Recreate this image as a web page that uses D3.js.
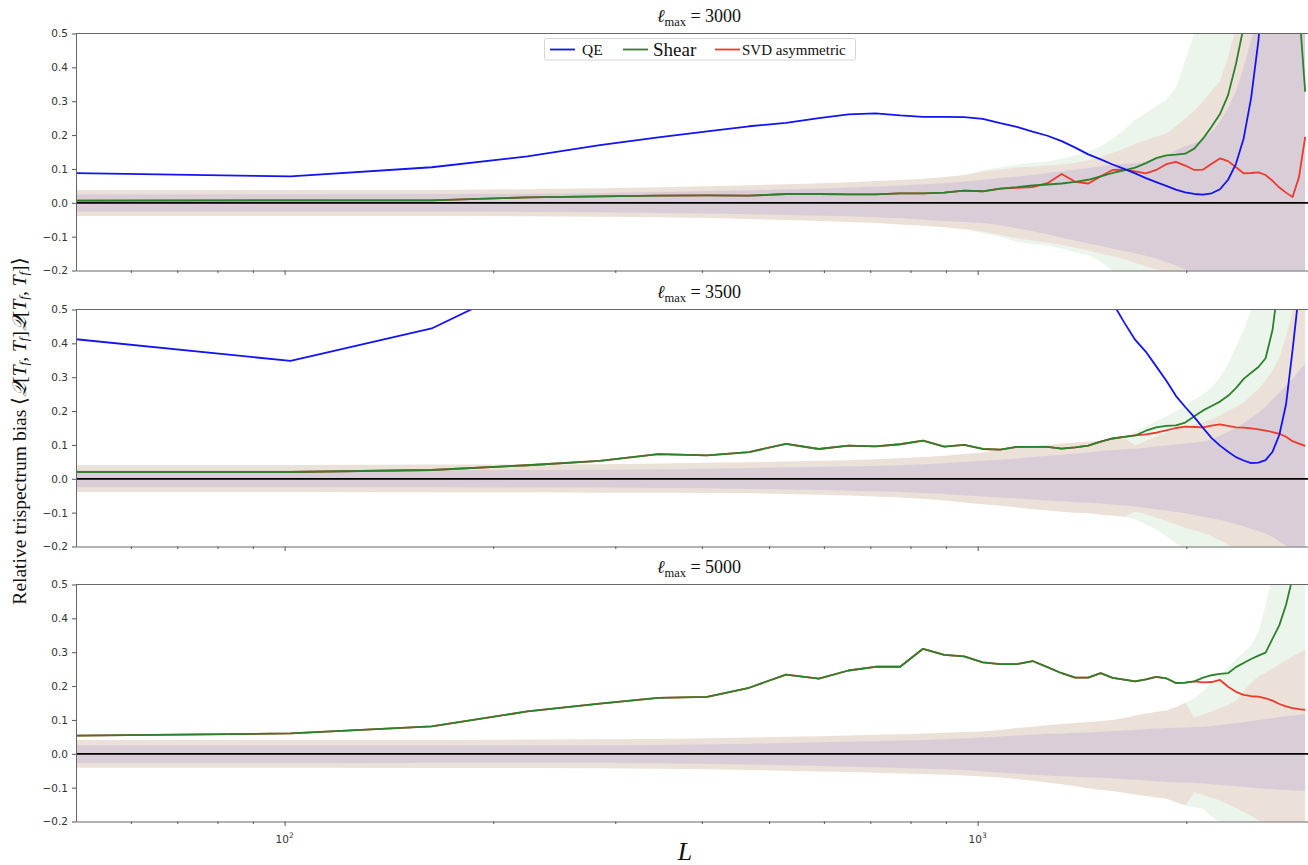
<!DOCTYPE html>
<html>
<head>
<meta charset="utf-8">
<title>Relative trispectrum bias</title>
<script src="https://cdn.jsdelivr.net/npm/d3@7"></script>
<style>
  body { margin: 0; background: #fff; }
  .tick text { font-family: "DejaVu Sans", sans-serif; font-size: 10.5px; fill: #333; }
  .tick line { stroke: #555; }
  .domain { stroke: #666; }
</style>
</head>
<body>
<div id="chart"></div>
<script>
// Multipole bin centres L
const L = [41, 102, 163, 224, 285, 346, 407, 468, 529, 590, 651, 712, 773, 834, 895, 956, 1017, 1078, 1139, 1200,
  1261, 1322, 1383, 1444, 1505, 1566, 1627, 1688, 1749, 1810, 1871, 1932, 1993, 2054, 2115, 2176, 2237, 2298, 2359,
  2420, 2481, 2542, 2603, 2664, 2725, 2786, 2847, 2908, 2969];

const yTicks = [0.5, 0.4, 0.3, 0.2, 0.1, 0.0, -0.1, -0.2];
const xMajor = [100, 1000];
const xMinor = [60, 70, 80, 90, 200, 300, 400, 500, 600, 700, 800, 900, 2000, 3000];
const lmaxLabels = ['3000', '3500', '5000'];
const seriesNames = ['QE', 'Shear', 'SVD asymmetric'];

// lmax = 3000 (values above 0.5 / below -0.2 run off the axes and are clipped)
const qe3000 = [0.090, 0.078, 0.105, 0.137, 0.170, 0.193, 0.211, 0.226, 0.236, 0.250, 0.261, 0.264, 0.258, 0.254, 0.254, 0.253, 0.248, 0.235, 0.224, 0.210, 0.198, 0.182, 0.163, 0.143, 0.128, 0.113, 0.100, 0.087, 0.073, 0.061, 0.050, 0.039, 0.031, 0.026, 0.024, 0.028, 0.040, 0.068, 0.115, 0.19, 0.31, 0.48, 0.75, 1.1, 1.5, 2.0, 2.6, 3.2, 4.0];
const shear3000 = [0.006, 0.007, 0.007, 0.016, 0.019, 0.021, 0.022, 0.021, 0.026, 0.026, 0.025, 0.025, 0.028, 0.028, 0.030, 0.036, 0.034, 0.042, 0.046, 0.051, 0.054, 0.057, 0.062, 0.068, 0.078, 0.088, 0.096, 0.104, 0.117, 0.132, 0.140, 0.142, 0.145, 0.160, 0.190, 0.225, 0.262, 0.318, 0.41, 0.52, 0.70, 0.90, 1.1, 1.3, 1.4, 1.3, 1.0, 0.58, 0.328];
const svd3000 = [0.006, 0.007, 0.007, 0.016, 0.019, 0.021, 0.022, 0.021, 0.026, 0.026, 0.025, 0.025, 0.028, 0.028, 0.030, 0.036, 0.034, 0.042, 0.044, 0.046, 0.058, 0.085, 0.062, 0.057, 0.078, 0.097, 0.098, 0.093, 0.087, 0.097, 0.114, 0.121, 0.110, 0.097, 0.098, 0.115, 0.131, 0.123, 0.105, 0.087, 0.088, 0.090, 0.082, 0.065, 0.045, 0.030, 0.017, 0.075, 0.195];
const qeHi3000 = [0.025, 0.025, 0.026, 0.027, 0.029, 0.032, 0.035, 0.037, 0.040, 0.042, 0.045, 0.048, 0.051, 0.055, 0.058, 0.063, 0.068, 0.073, 0.078, 0.083, 0.088, 0.093, 0.098, 0.103, 0.108, 0.112, 0.115, 0.117, 0.122, 0.130, 0.140, 0.155, 0.168, 0.176, 0.19, 0.21, 0.24, 0.28, 0.33, 0.40, 0.48, 0.56, 0.7, 0.85, 1.0, 1.1, 1.2, 1.3, 1.4];
const qeLo3000 = [-0.026, -0.026, -0.026, -0.027, -0.028, -0.030, -0.032, -0.034, -0.036, -0.038, -0.040, -0.043, -0.046, -0.050, -0.054, -0.057, -0.060, -0.066, -0.075, -0.084, -0.093, -0.103, -0.112, -0.120, -0.128, -0.136, -0.143, -0.149, -0.157, -0.165, -0.175, -0.186, -0.197, -0.206, -0.22, -0.24, -0.26, -0.28, -0.30, -0.33, -0.36, -0.4, -0.45, -0.5, -0.55, -0.6, -0.65, -0.7, -0.75];
const shearHi3000 = [0.038, 0.038, 0.038, 0.040, 0.043, 0.046, 0.049, 0.052, 0.055, 0.058, 0.061, 0.064, 0.067, 0.071, 0.076, 0.082, 0.096, 0.105, 0.112, 0.118, 0.122, 0.130, 0.140, 0.152, 0.166, 0.19, 0.215, 0.245, 0.265, 0.285, 0.304, 0.34, 0.42, 0.5, 0.6, 0.7, 0.8, 0.9, 1.0, 1.1, 1.2, 1.3, 1.4, 1.5, 1.6, 1.7, 1.8, 1.9, 2.0];
const shearLo3000 = [-0.039, -0.039, -0.039, -0.040, -0.041, -0.043, -0.045, -0.048, -0.051, -0.054, -0.057, -0.060, -0.064, -0.068, -0.072, -0.078, -0.09, -0.1, -0.115, -0.122, -0.126, -0.135, -0.147, -0.154, -0.175, -0.2, -0.23, -0.26, -0.29, -0.32, -0.35, -0.4, -0.45, -0.5, -0.55, -0.6, -0.65, -0.7, -0.75, -0.8, -0.85, -0.9, -0.95, -1.0, -1.05, -1.1, -1.15, -1.2, -1.25];
const svdHi3000 = [0.038, 0.038, 0.038, 0.040, 0.043, 0.046, 0.049, 0.052, 0.055, 0.058, 0.061, 0.064, 0.067, 0.071, 0.076, 0.082, 0.092, 0.098, 0.104, 0.107, 0.110, 0.113, 0.118, 0.125, 0.136, 0.148, 0.160, 0.174, 0.185, 0.196, 0.205, 0.225, 0.25, 0.272, 0.30, 0.33, 0.36, 0.43, 0.52, 0.6, 0.7, 0.8, 0.9, 1.0, 1.1, 1.2, 1.3, 1.4, 1.5];
const svdLo3000 = [-0.039, -0.039, -0.039, -0.040, -0.041, -0.043, -0.045, -0.048, -0.051, -0.054, -0.057, -0.060, -0.064, -0.068, -0.072, -0.078, -0.085, -0.095, -0.105, -0.112, -0.118, -0.125, -0.133, -0.142, -0.150, -0.158, -0.166, -0.178, -0.188, -0.196, -0.203, -0.215, -0.23, -0.25, -0.27, -0.3, -0.33, -0.36, -0.4, -0.45, -0.5, -0.55, -0.6, -0.65, -0.7, -0.75, -0.8, -0.85, -0.9];

// lmax = 3500
const qe3500 = [0.43, 0.348, 0.444, 0.58, 0.80, 0.92, 1.0, 1.05, 1.1, 1.12, 1.12, 1.1, 1.06, 1.0, 0.95, 0.9, 0.85, 0.8, 0.75, 0.7, 0.66, 0.62, 0.59, 0.56, 0.54, 0.52, 0.462, 0.41, 0.375, 0.332, 0.29, 0.245, 0.212, 0.182, 0.150, 0.120, 0.098, 0.080, 0.064, 0.054, 0.046, 0.048, 0.055, 0.080, 0.13, 0.22, 0.38, 0.55, 0.8];
const shear3500 = [0.020, 0.020, 0.026, 0.040, 0.053, 0.073, 0.069, 0.079, 0.103, 0.088, 0.098, 0.096, 0.102, 0.113, 0.095, 0.100, 0.088, 0.086, 0.094, 0.094, 0.094, 0.089, 0.093, 0.098, 0.110, 0.119, 0.124, 0.128, 0.142, 0.152, 0.156, 0.158, 0.166, 0.185, 0.202, 0.215, 0.228, 0.245, 0.268, 0.295, 0.313, 0.330, 0.356, 0.44, 0.6, 0.8, 1.0, 1.2, 1.4];
const svd3500 = [0.020, 0.020, 0.026, 0.040, 0.053, 0.073, 0.069, 0.079, 0.103, 0.088, 0.098, 0.096, 0.102, 0.113, 0.095, 0.100, 0.088, 0.086, 0.094, 0.094, 0.094, 0.089, 0.093, 0.098, 0.110, 0.119, 0.124, 0.128, 0.131, 0.136, 0.143, 0.150, 0.154, 0.153, 0.152, 0.157, 0.161, 0.156, 0.152, 0.151, 0.149, 0.146, 0.142, 0.138, 0.133, 0.124, 0.111, 0.104, 0.097];
const qeHi3500 = [0.025, 0.025, 0.025, 0.026, 0.027, 0.028, 0.030, 0.032, 0.034, 0.035, 0.037, 0.038, 0.040, 0.043, 0.046, 0.050, 0.053, 0.056, 0.060, 0.064, 0.068, 0.071, 0.075, 0.078, 0.082, 0.085, 0.087, 0.089, 0.092, 0.095, 0.098, 0.101, 0.104, 0.107, 0.110, 0.117, 0.128, 0.138, 0.150, 0.165, 0.18, 0.195, 0.213, 0.235, 0.255, 0.275, 0.295, 0.32, 0.34];
const qeLo3500 = [-0.025, -0.025, -0.025, -0.026, -0.026, -0.027, -0.028, -0.030, -0.032, -0.033, -0.035, -0.037, -0.039, -0.042, -0.045, -0.049, -0.052, -0.055, -0.058, -0.061, -0.064, -0.066, -0.069, -0.071, -0.073, -0.076, -0.079, -0.082, -0.086, -0.090, -0.094, -0.098, -0.102, -0.107, -0.112, -0.117, -0.122, -0.128, -0.134, -0.140, -0.148, -0.155, -0.162, -0.172, -0.185, -0.198, -0.21, -0.225, -0.24];
const shearHi3500 = [0.041, 0.041, 0.042, 0.042, 0.043, 0.045, 0.047, 0.049, 0.051, 0.053, 0.055, 0.058, 0.061, 0.064, 0.068, 0.073, 0.078, 0.085, 0.092, 0.097, 0.100, 0.104, 0.107, 0.110, 0.112, 0.118, 0.120, 0.14, 0.155, 0.17, 0.185, 0.2, 0.215, 0.235, 0.25, 0.27, 0.30, 0.34, 0.39, 0.44, 0.5, 0.6, 0.7, 0.8, 0.9, 1.0, 1.1, 1.2, 1.3];
const shearLo3500 = [-0.039, -0.039, -0.040, -0.040, -0.041, -0.041, -0.042, -0.043, -0.045, -0.047, -0.049, -0.052, -0.055, -0.060, -0.064, -0.070, -0.075, -0.080, -0.085, -0.090, -0.094, -0.097, -0.100, -0.102, -0.106, -0.109, -0.112, -0.12, -0.135, -0.15, -0.17, -0.19, -0.21, -0.23, -0.25, -0.28, -0.31, -0.34, -0.37, -0.4, -0.45, -0.5, -0.55, -0.6, -0.65, -0.7, -0.75, -0.8, -0.85];
const svdHi3500 = [0.041, 0.041, 0.042, 0.042, 0.043, 0.045, 0.047, 0.049, 0.051, 0.053, 0.055, 0.058, 0.061, 0.064, 0.068, 0.073, 0.078, 0.085, 0.092, 0.097, 0.100, 0.104, 0.107, 0.110, 0.112, 0.118, 0.120, 0.098, 0.112, 0.125, 0.136, 0.145, 0.153, 0.160, 0.168, 0.176, 0.188, 0.200, 0.212, 0.226, 0.245, 0.265, 0.29, 0.32, 0.36, 0.42, 0.5, 0.6, 0.7];
const svdLo3500 = [-0.039, -0.039, -0.040, -0.040, -0.041, -0.041, -0.042, -0.043, -0.045, -0.047, -0.049, -0.052, -0.055, -0.060, -0.064, -0.070, -0.075, -0.080, -0.085, -0.090, -0.094, -0.097, -0.100, -0.102, -0.106, -0.109, -0.112, -0.097, -0.105, -0.115, -0.125, -0.135, -0.145, -0.152, -0.160, -0.170, -0.182, -0.195, -0.21, -0.23, -0.25, -0.28, -0.31, -0.34, -0.38, -0.42, -0.46, -0.5, -0.55];

// lmax = 5000 (the QE curve lies above the plotted range here)
const qe5000 = null;
const shear5000 = [0.052, 0.060, 0.081, 0.125, 0.148, 0.165, 0.168, 0.195, 0.234, 0.222, 0.246, 0.257, 0.257, 0.310, 0.292, 0.288, 0.270, 0.265, 0.265, 0.274, 0.256, 0.238, 0.225, 0.225, 0.238, 0.224, 0.219, 0.214, 0.220, 0.227, 0.223, 0.209, 0.210, 0.214, 0.225, 0.232, 0.236, 0.238, 0.256, 0.268, 0.280, 0.290, 0.299, 0.34, 0.38, 0.44, 0.52, 0.65, 0.8];
const svd5000 = [0.052, 0.060, 0.081, 0.125, 0.148, 0.165, 0.168, 0.195, 0.234, 0.222, 0.246, 0.257, 0.257, 0.310, 0.292, 0.288, 0.270, 0.265, 0.265, 0.274, 0.256, 0.238, 0.225, 0.225, 0.238, 0.224, 0.219, 0.214, 0.220, 0.227, 0.223, 0.209, 0.210, 0.214, 0.211, 0.212, 0.218, 0.198, 0.183, 0.174, 0.170, 0.169, 0.164, 0.157, 0.147, 0.140, 0.135, 0.132, 0.130];
const qeHi5000 = [0.025, 0.025, 0.025, 0.025, 0.025, 0.026, 0.028, 0.030, 0.032, 0.034, 0.036, 0.038, 0.039, 0.041, 0.043, 0.045, 0.048, 0.051, 0.054, 0.056, 0.059, 0.060, 0.062, 0.063, 0.065, 0.067, 0.069, 0.071, 0.073, 0.075, 0.076, 0.077, 0.078, 0.079, 0.080, 0.082, 0.085, 0.088, 0.091, 0.094, 0.097, 0.100, 0.103, 0.106, 0.109, 0.111, 0.113, 0.115, 0.117];
const qeLo5000 = [-0.027, -0.027, -0.027, -0.027, -0.027, -0.028, -0.030, -0.032, -0.034, -0.036, -0.038, -0.040, -0.042, -0.044, -0.046, -0.048, -0.052, -0.056, -0.059, -0.062, -0.064, -0.066, -0.068, -0.070, -0.071, -0.073, -0.075, -0.077, -0.079, -0.081, -0.083, -0.084, -0.085, -0.086, -0.088, -0.090, -0.092, -0.094, -0.096, -0.098, -0.100, -0.102, -0.104, -0.105, -0.106, -0.107, -0.108, -0.109, -0.110];
const shearHi5000 = [0.041, 0.041, 0.041, 0.042, 0.043, 0.044, 0.046, 0.048, 0.050, 0.052, 0.054, 0.056, 0.058, 0.060, 0.062, 0.064, 0.066, 0.070, 0.076, 0.080, 0.084, 0.088, 0.091, 0.094, 0.097, 0.100, 0.106, 0.113, 0.119, 0.124, 0.128, 0.138, 0.151, 0.165, 0.185, 0.21, 0.235, 0.255, 0.28, 0.30, 0.32, 0.36, 0.44, 0.53, 0.65, 0.8, 0.95, 1.1, 1.25];
const shearLo5000 = [-0.041, -0.041, -0.042, -0.042, -0.043, -0.044, -0.046, -0.048, -0.050, -0.052, -0.054, -0.056, -0.058, -0.060, -0.062, -0.064, -0.067, -0.070, -0.075, -0.080, -0.085, -0.090, -0.096, -0.102, -0.107, -0.110, -0.115, -0.120, -0.125, -0.129, -0.133, -0.143, -0.153, -0.158, -0.163, -0.185, -0.205, -0.225, -0.25, -0.28, -0.32, -0.36, -0.42, -0.5, -0.6, -0.7, -0.8, -0.9, -1.0];
const svdHi5000 = [0.041, 0.041, 0.041, 0.042, 0.043, 0.044, 0.046, 0.048, 0.050, 0.052, 0.054, 0.056, 0.058, 0.060, 0.062, 0.064, 0.066, 0.070, 0.076, 0.080, 0.084, 0.088, 0.091, 0.094, 0.097, 0.100, 0.106, 0.113, 0.119, 0.124, 0.128, 0.138, 0.151, 0.107, 0.117, 0.126, 0.135, 0.144, 0.158, 0.185, 0.21, 0.228, 0.240, 0.252, 0.265, 0.276, 0.287, 0.298, 0.308];
const svdLo5000 = [-0.041, -0.041, -0.042, -0.042, -0.043, -0.044, -0.046, -0.048, -0.050, -0.052, -0.054, -0.056, -0.058, -0.060, -0.062, -0.064, -0.067, -0.070, -0.075, -0.080, -0.085, -0.090, -0.096, -0.102, -0.107, -0.110, -0.115, -0.120, -0.125, -0.129, -0.133, -0.143, -0.153, -0.114, -0.122, -0.130, -0.138, -0.150, -0.160, -0.172, -0.184, -0.196, -0.21, -0.22, -0.23, -0.24, -0.25, -0.26, -0.27];

const panels = [
  { lmax: lmaxLabels[0], qe: qe3000, shear: shear3000, svd: svd3000,
    bands: { qe: [qeHi3000, qeLo3000], shear: [shearHi3000, shearLo3000], svd: [svdHi3000, svdLo3000] } },
  { lmax: lmaxLabels[1], qe: qe3500, shear: shear3500, svd: svd3500,
    bands: { qe: [qeHi3500, qeLo3500], shear: [shearHi3500, shearLo3500], svd: [svdHi3500, svdLo3500] } },
  { lmax: lmaxLabels[2], qe: qe5000, shear: shear5000, svd: svd5000,
    bands: { qe: [qeHi5000, qeLo5000], shear: [shearHi5000, shearLo5000], svd: [svdHi5000, svdLo5000] } }
];

const width = 1308, height = 865;
const left = 76, right = 1323;          // axes run slightly past the cropped edge
const panelTop = [33.5, 309.5, 584.5];
const panelH = 237;
const serif = '"Liberation Serif", "Times New Roman", serif';

const colors = { qe: '#1414f2', shear: '#2c812c', svd: '#ee3a2c' };
const bandFill = { qe: 'rgba(0,0,255,0.085)', shear: 'rgba(0,128,0,0.08)', svd: 'rgba(255,0,0,0.08)' };

const svg = d3.select('#chart').append('svg')
  .attr('width', width)
  .attr('height', height)
  .style('background', '#fff');

const x = d3.scaleLog().domain([50, 3150]).range([left, right]);

panels.forEach((p, k) => {
  const top = panelTop[k];
  const bottom = top + panelH;
  const y = d3.scaleLinear().domain([-0.2, 0.5]).range([bottom, top]);

  svg.append('clipPath').attr('id', 'clip' + k)
    .append('rect')
    .attr('x', left).attr('y', top)
    .attr('width', right - left).attr('height', panelH);

  const plot = svg.append('g').attr('clip-path', `url(#clip${k})`);

  // shaded scatter bands
  ['qe', 'shear', 'svd'].forEach(key => {
    const [hi, lo] = p.bands[key];
    const area = d3.area()
      .x((d, i) => x(L[i]))
      .y0((d, i) => y(lo[i]))
      .y1((d, i) => y(hi[i]));
    plot.append('path')
      .datum(L)
      .attr('d', area)
      .attr('fill', bandFill[key]);
  });

  // zero line
  plot.append('line')
    .attr('x1', left).attr('x2', right)
    .attr('y1', y(0)).attr('y2', y(0))
    .attr('stroke', '#000')
    .attr('stroke-width', 1.7);

  // curves
  const line = d3.line()
    .x((d, i) => x(L[i]))
    .y(d => y(d));
  ['svd', 'shear', 'qe'].forEach(key => {
    if (!p[key]) return;
    plot.append('path')
      .datum(p[key])
      .attr('d', line)
      .attr('fill', 'none')
      .attr('stroke', colors[key])
      .attr('stroke-width', 1.8)
      .attr('stroke-linejoin', 'round');
  });

  // axes
  svg.append('g')
    .attr('transform', `translate(${left},0)`)
    .call(d3.axisLeft(y).tickValues(yTicks).tickFormat(d3.format('.1f')).tickSize(4).tickSizeOuter(0).tickPadding(4));

  svg.append('g')
    .attr('transform', `translate(0,${bottom})`)
    .call(d3.axisBottom(x).tickValues(xMajor).tickFormat('').tickSize(4.5).tickSizeOuter(0));

  svg.append('g')
    .attr('transform', `translate(0,${bottom})`)
    .call(d3.axisBottom(x).tickValues(xMinor).tickFormat('').tickSize(2.5).tickSizeOuter(0))
    .call(g => g.select('.domain').remove());

  svg.append('line')
    .attr('x1', left).attr('x2', right)
    .attr('y1', top).attr('y2', top)
    .attr('stroke', '#666');

  // panel title
  const title = svg.append('text')
    .attr('x', 699).attr('y', top - 12)
    .attr('text-anchor', 'middle')
    .style('font-family', serif)
    .style('font-size', '18px')
    .attr('fill', '#111');
  title.append('tspan').style('font-style', 'italic').text('ℓ');
  title.append('tspan').attr('dy', 4).style('font-size', '12.5px').text('max');
  title.append('tspan').attr('dy', -4).text(' = ' + p.lmax);

  // tick labels only on the bottom panel
  if (k === panels.length - 1) {
    xMajor.forEach(v => {
      const t = svg.append('text')
        .attr('x', x(v)).attr('y', bottom + 21)
        .attr('text-anchor', 'middle')
        .style('font-family', '"DejaVu Sans", sans-serif')
        .style('font-size', '10.5px')
        .attr('fill', '#333');
      t.append('tspan').text('10');
      t.append('tspan').attr('dy', -5).style('font-size', '7.5px').text(Math.round(Math.log10(v)));
    });
  }

  // legend in the first panel
  if (k === 0) {
    const legend = svg.append('g');
    legend.append('rect')
      .attr('x', 544.5).attr('y', 38.5)
      .attr('width', 311).attr('height', 21.5)
      .attr('rx', 2)
      .attr('fill', '#fff')
      .attr('fill-opacity', 0.85)
      .attr('stroke', '#d5d5d5');
    const items = [
      { key: 'qe', name: seriesNames[0], lx: 550, tx: 582, size: 15.5 },
      { key: 'shear', name: seriesNames[1], lx: 623, tx: 653, size: 19 },
      { key: 'svd', name: seriesNames[2], lx: 715, tx: 742, size: 15 }
    ];
    items.forEach(it => {
      legend.append('line')
        .attr('x1', it.lx).attr('x2', it.lx + 25)
        .attr('y1', 49.5).attr('y2', 49.5)
        .attr('stroke', colors[it.key])
        .attr('stroke-width', 1.8);
      legend.append('text')
        .attr('x', it.tx).attr('y', 49.5)
        .attr('dominant-baseline', 'central')
        .style('font-family', serif)
        .style('font-size', it.size + 'px')
        .attr('fill', '#111')
        .text(it.name);
    });
  }
});

// y axis label
const yl = svg.append('text')
  .attr('transform', 'translate(19,431) rotate(-90)')
  .attr('text-anchor', 'middle')
  .attr('dominant-baseline', 'central')
  .style('font-family', serif)
  .style('font-size', '19.5px')
  .attr('fill', '#111');
yl.append('tspan').text('Relative trispectrum bias ⟨');
[0, 1].forEach(() => {
  yl.append('tspan').style('font-style', 'italic').text('\u{1D4AC}');
  yl.append('tspan').text('[');
  yl.append('tspan').style('font-style', 'italic').text('T');
  yl.append('tspan').attr('dy', 4).style('font-size', '13px').style('font-style', 'italic').text('f');
  yl.append('tspan').attr('dy', -4).text(', ');
  yl.append('tspan').style('font-style', 'italic').text('T');
  yl.append('tspan').attr('dy', 4).style('font-size', '13px').style('font-style', 'italic').text('f');
  yl.append('tspan').attr('dy', -4).text(']');
});
yl.append('tspan').text('⟩');

// x axis label
svg.append('text')
  .attr('x', 685).attr('y', 851)
  .attr('text-anchor', 'middle')
  .attr('dominant-baseline', 'central')
  .style('font-family', serif)
  .style('font-size', '26px')
  .style('font-style', 'italic')
  .attr('fill', '#111')
  .text('L');
</script>
</body>
</html>
